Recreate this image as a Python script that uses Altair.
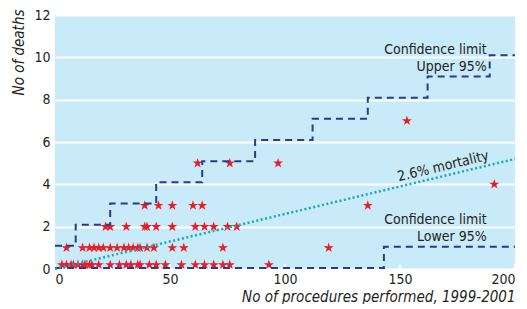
import altair as alt
import pandas as pd

# ---- data ----
deaths_0 = [3, 5, 7, 8, 10, 12, 13, 15, 16, 19, 24, 28, 31, 33, 36, 37, 41, 44, 48, 55, 61, 65, 69, 73, 76, 93]
deaths_1 = [5, 12, 15, 17, 19, 21, 24, 27, 30, 32, 34, 36, 37, 40, 43, 51, 56, 73, 119]
deaths_2 = [22, 24, 31, 39, 40, 44, 51, 61, 65, 69, 75, 79]
deaths_3 = [39, 45, 51, 60, 64, 136]
deaths_4 = [191]
deaths_5 = [62, 76, 97]
deaths_7 = [153]

upper_x = [0, 9, 24, 44, 64, 87, 112, 136, 162, 189, 200]
upper_y = [1, 2, 3, 4, 5, 6, 7, 8, 9, 10, 10]
lower_x = [0, 143, 200]
lower_y = [0, 1, 1]
mortality_rate = 0.026
mort_x = [0, 200]

x_ticks = [0, 50, 100, 150, 200]
y_ticks = [0, 2, 4, 6, 8, 10, 12]

ann_text = ["Confidence limit", "Upper 95%", "Confidence limit", "Lower 95%"]
ann_x = [187.7, 187.7, 187.7, 187.7]
ann_y = [10.17, 9.35, 2.13, 1.31]

# ---- tables ----
rows = []
for d, xs_ in [(0, deaths_0), (1, deaths_1), (2, deaths_2), (3, deaths_3),
               (4, deaths_4), (5, deaths_5), (7, deaths_7)]:
    for x in xs_:
        rows.append({"procedures": x, "deaths": d})
pts = pd.DataFrame(rows)
upper = pd.DataFrame({"x": upper_x, "y": upper_y})
lower = pd.DataFrame({"x": lower_x, "y": lower_y})
mort = pd.DataFrame({"x": mort_x, "y": [v * mortality_rate for v in mort_x]})
ann = pd.DataFrame({"t": ann_text, "x": ann_x, "y": ann_y})
mort_lab = pd.DataFrame({"t": ["2.6% mortality"], "x": [168.8], "y": [168.8 * mortality_rate + 0.45]})

FONT = "DejaVu Sans Condensed"
INK = "#231f20"
W, H = 460, 254
STAR = ("M0,-1L0.2245,-0.309L0.9511,-0.309L0.3633,0.118L0.5878,0.809L0,0.382"
        "L-0.5878,0.809L-0.3633,0.118L-0.9511,-0.309L-0.2245,-0.309Z")

xs = alt.Scale(domain=[0, 200], nice=False)
ys = alt.Scale(domain=[0, 12], nice=False)

x_axis = alt.Axis(values=x_ticks, grid=False, domain=False, ticks=False,
                  labelPadding=3, labelFontSize=14, labelFont=FONT, labelColor=INK,
                  title="No of procedures performed, 1999-2001", titleFont=FONT,
                  titleFontSize=15, titleFontStyle="italic", titleFontWeight="normal",
                  titleColor=INK, titleAnchor="end", titlePadding=3)
y_axis = alt.Axis(values=y_ticks, grid=True, gridColor="white", gridWidth=2, gridOpacity=1,
                  domain=False, ticks=False, labelPadding=5, labelFontSize=14, labelFont=FONT,
                  labelColor=INK,
                  title="No of deaths", titleFont=FONT, titleFontSize=15,
                  titleFontStyle="italic", titleFontWeight="normal", titleColor=INK,
                  titleAngle=270, titleAlign="right", titleBaseline="middle",
                  titleX=-37, titleY=-6)

points = alt.Chart(pts).transform_calculate(
    py="datum.deaths == 0 ? 0.2 : datum.deaths"
).mark_point(
    shape=STAR, filled=True, color="#ec1c24", size=110, opacity=1, strokeWidth=0
).encode(
    x=alt.X("procedures:Q", scale=xs, axis=x_axis),
    y=alt.Y("py:Q", scale=ys, axis=y_axis),
)

tick_layer = alt.Chart(pd.DataFrame({"x": x_ticks})).mark_rule(
    color="white", strokeWidth=2
).encode(x=alt.X("x:Q", scale=xs), y=alt.value(H - 5), y2=alt.value(H))

upper_line = alt.Chart(upper).mark_line(
    interpolate="step-after", color="#2b3a8f", strokeWidth=2, strokeDash=[7, 5], yOffset=-2
).encode(x=alt.X("x:Q", scale=xs), y=alt.Y("y:Q", scale=ys))

lower_line = alt.Chart(lower).mark_line(
    interpolate="step-after", color="#2b3a8f", strokeWidth=2, strokeDash=[7, 5], yOffset=-1
).encode(x=alt.X("x:Q", scale=xs), y=alt.Y("y:Q", scale=ys))

mort_line = alt.Chart(mort).mark_line(
    color="#17a9bb", strokeWidth=2.5, strokeDash=[2, 2.5]
).encode(x=alt.X("x:Q", scale=xs), y=alt.Y("y:Q", scale=ys))

ann_layer = alt.Chart(ann).mark_text(
    align="right", baseline="alphabetic", font=FONT, fontSize=14, color=INK
).encode(x=alt.X("x:Q", scale=xs), y=alt.Y("y:Q", scale=ys), text="t:N")

mort_text = alt.Chart(mort_lab).mark_text(
    align="center", baseline="middle", font=FONT, fontSize=14, color=INK, angle=346.5
).encode(x=alt.X("x:Q", scale=xs), y=alt.Y("y:Q", scale=ys), text="t:N")

chart = alt.layer(
    points, tick_layer, upper_line, lower_line, mort_line, ann_layer, mort_text
).properties(
    width=W, height=H,
    autosize=alt.AutoSizeParams(type="none"),
    padding={"left": 47, "top": 7, "right": 4, "bottom": 35},
    background="white",
).configure_view(fill="#c8eaf9", strokeWidth=0)

chart.save("out.html", embed_options={"renderer": "svg", "actions": False})
